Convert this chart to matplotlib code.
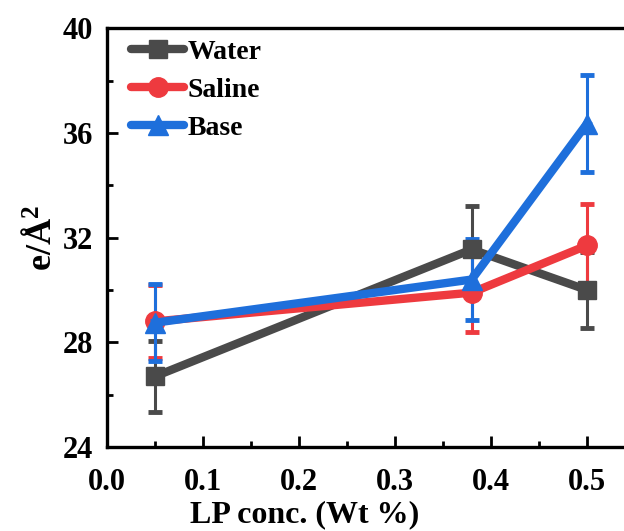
import matplotlib.pyplot as plt
from matplotlib.ticker import MultipleLocator
from matplotlib.lines import Line2D

conc = [0.05, 0.38, 0.5]

water = [26.7, 31.55, 30.0]
water_err = [1.35, 1.65, 1.47]

saline = [28.8, 29.9, 31.7]
saline_err = [1.4, 1.5, 1.57]

base = [28.75, 30.4, 36.35]
base_err = [1.47, 1.55, 1.85]

names = ['Water', 'Saline', 'Base']
colors = ['#4a4a4a', '#ee3a3f', '#1e6fdb']
markers = ['s', 'o', '^']
msizes = [13, 14, 15]

plt.rcParams['font.family'] = 'Liberation Serif'
plt.rcParams['font.weight'] = 'bold'
plt.rcParams['mathtext.fontset'] = 'custom'
plt.rcParams['mathtext.rm'] = 'Liberation Serif:bold'
plt.rcParams['mathtext.it'] = 'Liberation Serif:bold'

fig = plt.figure(figsize=(6.24, 5.31), dpi=100)
ax = fig.add_axes([0.1715, 0.158, 0.846, 0.789])

kw = dict(linewidth=6, elinewidth=2.2, capsize=5, capthick=3.5)
series = [(water, water_err), (saline, saline_err), (base, base_err)]
handles = []
for (vals, err), name, c, m, ms in zip(series, names, colors, markers, msizes):
    ax.errorbar(conc, vals, yerr=err, color=c, marker=m, markersize=ms, **kw)
    handles.append(Line2D([], [], color=c, marker=m, markersize=ms, linewidth=6,
                          solid_capstyle='round', label=name))

ax.set_xlim(0, 0.55)
ax.set_ylim(24, 40)
ax.xaxis.set_major_locator(MultipleLocator(0.1))
ax.xaxis.set_minor_locator(MultipleLocator(0.05))
ax.yaxis.set_major_locator(MultipleLocator(4))
ax.yaxis.set_minor_locator(MultipleLocator(2))
ax.tick_params(which='both', direction='in', width=2, labelsize=22)
ax.tick_params(which='major', length=8)
ax.tick_params(which='minor', length=4)
ax.tick_params(axis='x', pad=15)
ax.tick_params(axis='y', pad=10)
for s in ax.spines.values():
    s.set_linewidth(2.4)

ax.set_xlabel('LP conc. (Wt %)', fontsize=23, fontweight='bold')
ax.xaxis.set_label_coords(0.375, -0.127)
ax.set_ylabel(r'e/$\mathrm{\AA}^{2}$', fontsize=26, fontweight='bold', labelpad=3)

ax.legend(handles=handles, loc='upper left', frameon=False, fontsize=20,
          handlelength=1.9, handletextpad=0.12, labelspacing=0.45,
          borderaxespad=0.1, borderpad=0.3, bbox_to_anchor=(0.025, 1.0))

fig.savefig('out.png', dpi=100)
